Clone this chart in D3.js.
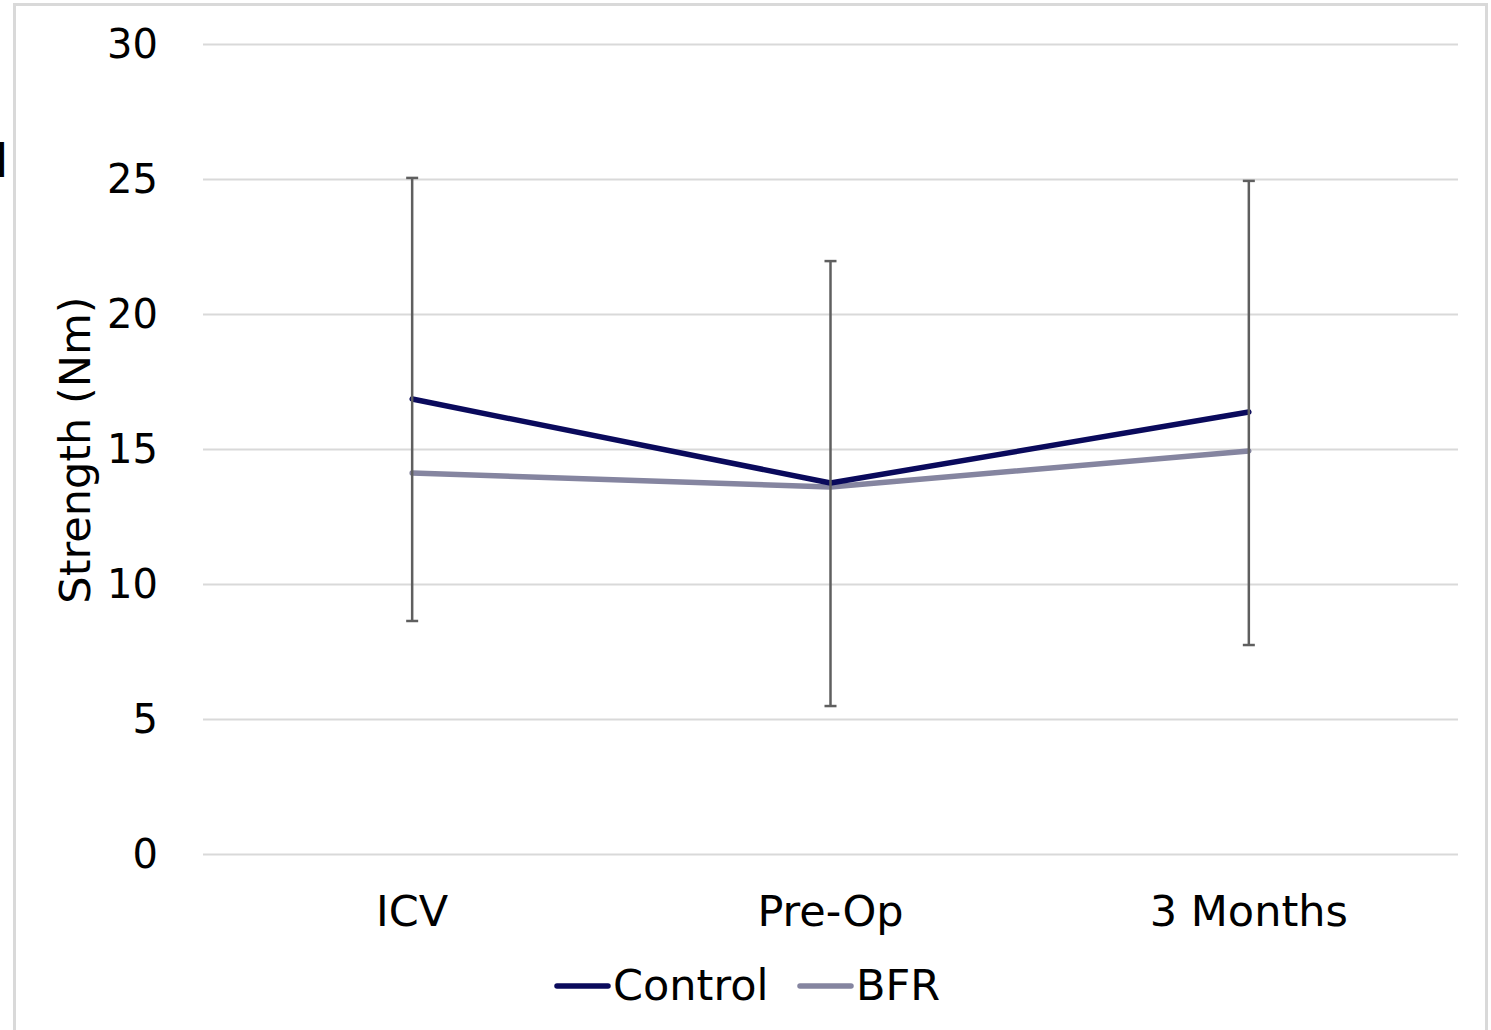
<!DOCTYPE html>
<html>
<head>
<meta charset="utf-8">
<script src="https://cdn.jsdelivr.net/npm/d3@7"></script>
<style>
    html, body { margin: 0; padding: 0; background: #fff; }
    svg { display: block; font-family: "DejaVu Sans", Verdana, sans-serif; }
</style>
</head>
<body>
<div id="chart"></div>
<script>
var categories = ["ICV", "Pre-Op", "3 Months"];
var controlValues = [16.85, 13.74, 16.37];
var bfrValues = [14.11, 13.59, 14.93];
var errorLow = [8.63, 5.48, 7.74];
var errorHigh = [25.04, 21.96, 24.93];
var yTicks = [0, 5, 10, 15, 20, 25, 30];

(function () {
    var width = 1491;
    var height = 1030;
    var plot = { left: 203, right: 1458, top: 44, bottom: 854 };

    var svg = d3.select("#chart")
        .append("svg")
        .attr("width", width)
        .attr("height", height);

    // chart frame
    svg.append("rect")
        .attr("x", 14.5)
        .attr("y", 4.5)
        .attr("width", 1472)
        .attr("height", 1040)
        .attr("fill", "none")
        .attr("stroke", "#d9d9d9")
        .attr("stroke-width", 3);

    // cut-off glyph at the left edge (as in the source image)
    svg.append("text")
        .attr("x", -5.5)
        .attr("y", 177)
        .attr("font-size", 48)
        .attr("fill", "#000")
        .text("I");

    var x = d3.scaleBand()
        .domain(categories)
        .range([plot.left, plot.right]);

    var y = d3.scaleLinear()
        .domain([0, 30])
        .range([plot.bottom, plot.top]);

    function cx(i) { return x(categories[i]) + x.bandwidth() / 2; }

    // grid
    svg.append("g")
        .selectAll("line")
        .data(yTicks)
        .enter()
        .append("line")
        .attr("x1", plot.left)
        .attr("x2", plot.right)
        .attr("y1", function (d) { return Math.round(y(d)) + 0.5; })
        .attr("y2", function (d) { return Math.round(y(d)) + 0.5; })
        .attr("stroke", "#d9d9d9")
        .attr("stroke-width", 2);

    // y tick labels
    svg.append("g")
        .selectAll("text")
        .data(yTicks)
        .enter()
        .append("text")
        .attr("x", 158)
        .attr("y", function (d) { return y(d); })
        .attr("dy", "0.36em")
        .attr("text-anchor", "end")
        .attr("font-size", 40)
        .attr("fill", "#000")
        .text(function (d) { return d; });

    // category labels
    svg.append("g")
        .selectAll("text")
        .data(categories)
        .enter()
        .append("text")
        .attr("x", function (d) { return x(d) + x.bandwidth() / 2; })
        .attr("y", 926)
        .attr("text-anchor", "middle")
        .attr("font-size", 43)
        .attr("fill", "#000")
        .text(function (d) { return d; });

    // axis title
    svg.append("text")
        .attr("transform", "translate(90," + 450 + ") rotate(-90)")
        .attr("text-anchor", "middle")
        .attr("font-size", 43)
        .attr("fill", "#000")
        .text("Strength (Nm)");

    var line = d3.line()
        .x(function (d, i) { return cx(i); })
        .y(function (d) { return y(d); });

    var series = [
        { name: "Control", values: controlValues, color: "#0a0a5c" },
        { name: "BFR", values: bfrValues, color: "#8585a0" }
    ];

    svg.append("g")
        .selectAll("path")
        .data(series.slice().reverse())
        .enter()
        .append("path")
        .attr("d", function (d) { return line(d.values); })
        .attr("fill", "none")
        .attr("stroke", function (d) { return d.color; })
        .attr("stroke-width", 5.5)
        .attr("stroke-linecap", "round")
        .attr("stroke-linejoin", "round");

    // error bars on Control
    var eb = svg.append("g")
        .attr("stroke", "#5f5f5f")
        .attr("stroke-width", 2.5);
    categories.forEach(function (c, i) {
        var px = cx(i);
        eb.append("line")
            .attr("x1", px).attr("x2", px)
            .attr("y1", y(errorLow[i])).attr("y2", y(errorHigh[i]));
        eb.append("line")
            .attr("x1", px - 6).attr("x2", px + 6)
            .attr("y1", y(errorLow[i])).attr("y2", y(errorLow[i]));
        eb.append("line")
            .attr("x1", px - 6).attr("x2", px + 6)
            .attr("y1", y(errorHigh[i])).attr("y2", y(errorHigh[i]));
    });

    // legend
    var legendItems = [
        { name: "Control", color: "#0a0a5c", x: 557 },
        { name: "BFR", color: "#8585a0", x: 800 }
    ];
    var lg = svg.append("g");
    legendItems.forEach(function (d) {
        lg.append("line")
            .attr("x1", d.x).attr("x2", d.x + 51)
            .attr("y1", 986).attr("y2", 986)
            .attr("stroke", d.color)
            .attr("stroke-width", 5.5)
            .attr("stroke-linecap", "round");
        lg.append("text")
            .attr("x", d.x + 56)
            .attr("y", 1000)
            .attr("font-size", 43)
            .attr("fill", "#000")
            .text(d.name);
    });
}());
</script>
</body>
</html>
